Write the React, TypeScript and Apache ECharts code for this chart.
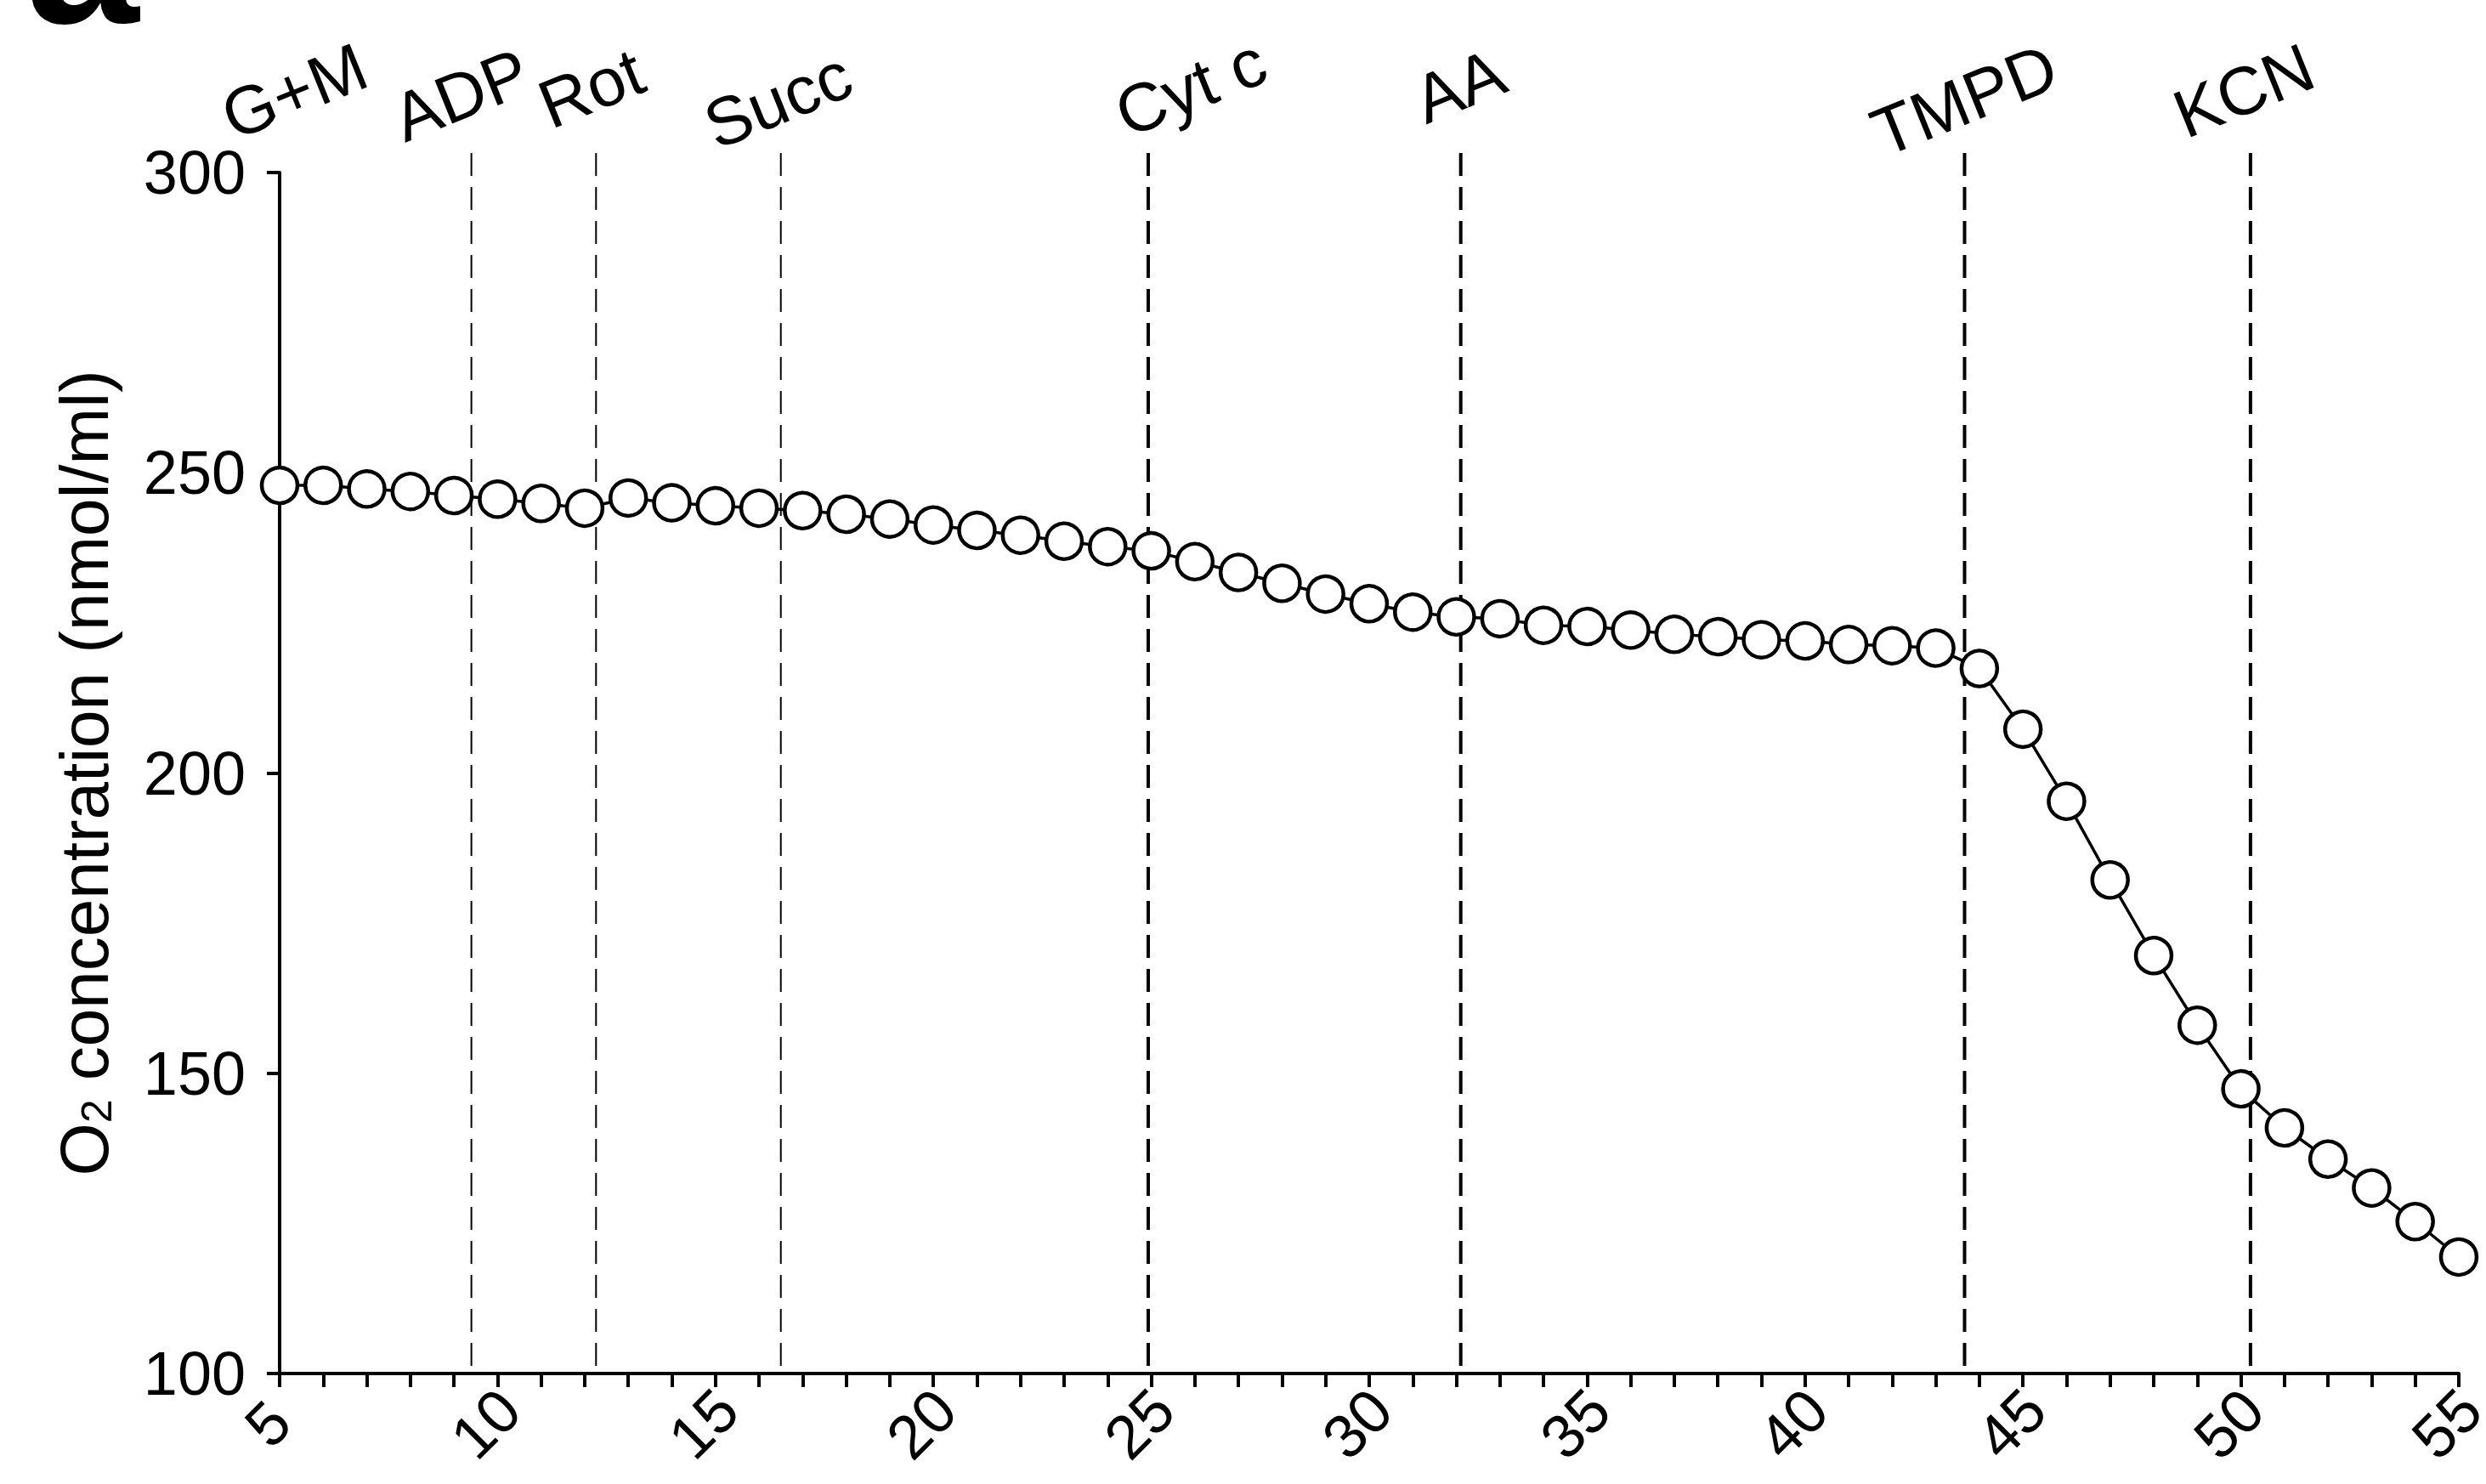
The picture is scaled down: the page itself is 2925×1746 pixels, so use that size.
import React, { useEffect, useRef } from "react";
import * as echarts from "echarts";

// time (min)
const times = [
  5, 6, 7, 8, 9, 10, 11, 12, 13, 14, 15, 16, 17, 18, 19, 20, 21, 22, 23, 24, 25,
  26, 27, 28, 29, 30, 31, 32, 33, 34, 35, 36, 37, 38, 39, 40, 41, 42, 43, 44, 45,
  46, 47, 48, 49, 50, 51, 52, 53, 54, 55,
];
// O2 concentration (nmol/ml)
const o2 = [
  247.9, 247.9, 247.3, 246.9, 246.2, 245.6, 244.9, 244.1, 245.8, 245.0, 244.5,
  244.1, 243.7, 243.1, 242.3, 241.3, 240.4, 239.6, 238.6, 237.7, 237.0, 235.2,
  233.4, 231.6, 229.8, 228.2, 226.8, 226.0, 225.7, 224.6, 224.4, 223.8, 223.1,
  222.7, 222.2, 222.0, 221.4, 221.2, 220.8, 217.4, 207.3, 195.3, 182.2, 169.6,
  158.0, 147.4, 140.9, 135.7, 130.9, 125.3, 119.4,
];
// additions
const eventNames = ["G+M", "ADP", "Rot", "Succ", "Cyt c", "AA", "TMPD", "KCN"];
const eventTimes = [5, 9.4, 12.26, 16.5, 24.93, 32.1, 43.66, 50.22];
const xTicks = { min: 5, max: 55, step: 5 };
const yTicks = { min: 100, max: 300, step: 50 };

// styling (not data)
const FONT = 'Arial, "Liberation Sans", Helvetica, sans-serif';
const eventLineKind = ["none", "thin", "thin", "thin", "thick", "thick", "thick", "thick"];
const labelOffsets = [
  [17, 4],
  [-12, -3],
  [-3, -8],
  [-6, 6],
  [49, 12],
  [2, -9],
  [-3, 7],
  [-6, -6],
];

export default function App() {
  const ref = useRef<HTMLDivElement>(null);

  useEffect(() => {
    if (!ref.current) return;
    const chart = echarts.init(ref.current, undefined, { renderer: "svg" });

    const gridTop = 203;
    const gridBottom = 130;
    const plotH = 1746 - gridTop - gridBottom;
    const perUnit = plotH / (yTicks.max - yTicks.min);
    const lineTopValue = yTicks.max + (gridTop - 180) / perUnit;
    const labelValue = yTicks.max + (gridTop - 110) / perUnit;

    const eventSeries: any[] = [];
    eventTimes.forEach((t, i) => {
      if (eventLineKind[i] === "none") return;
      eventSeries.push({
        type: "line",
        data: [
          [t, lineTopValue],
          [t, yTicks.min],
        ],
        symbol: "none",
        clip: false,
        silent: true,
        z: 1,
        lineStyle: {
          color: "#000",
          width: eventLineKind[i] === "thick" ? 4 : 2,
          type: [27, 13],
        },
      });
    });

    chart.setOption({
      animation: false,
      backgroundColor: "#fff",
      grid: {
        left: 329,
        right: 32,
        top: gridTop,
        bottom: gridBottom,
        containLabel: false,
        outerBoundsMode: "none",
      },
      graphic: [
        {
          type: "text",
          x: 30,
          y: -56,
          style: {
            text: "a",
            fontSize: 240,
            fontWeight: "bold",
            fontFamily: FONT,
            fill: "#000",
            align: "left",
            verticalAlign: "middle",
          },
        },
      ],
      xAxis: {
        type: "value",
        min: xTicks.min,
        max: xTicks.max,
        interval: xTicks.step,
        axisLine: { show: true, lineStyle: { color: "#000", width: 4 } },
        axisTick: { show: true, length: 16, lineStyle: { color: "#000", width: 4 } },
        minorTick: { show: true, splitNumber: 5, length: 16, lineStyle: { color: "#000", width: 4 } },
        splitLine: { show: false },
        minorSplitLine: { show: false },
        axisLabel: {
          rotate: 45,
          fontSize: 72,
          lineHeight: 56,
          color: "#000",
          fontFamily: FONT,
          margin: 45,
          align: "center",
          verticalAlign: "middle",
          padding: [0, 40, 0, 0],
        },
      },
      yAxis: {
        type: "value",
        min: yTicks.min,
        max: yTicks.max,
        interval: yTicks.step,
        axisLine: { show: true, lineStyle: { color: "#000", width: 4 } },
        axisTick: { show: true, length: 15, lineStyle: { color: "#000", width: 4 } },
        splitLine: { show: false },
        axisLabel: { fontSize: 72, color: "#000", fontFamily: FONT, margin: 40 },
        name: "{o|O}{s|2}{o| concentration (nmol/ml)}",
        nameLocation: "middle",
        nameRotate: 90,
        nameGap: 190,
        nameTextStyle: {
          color: "#000",
          rich: {
            o: { fontSize: 80, lineHeight: 80, fontFamily: FONT, color: "#000", verticalAlign: "top" },
            s: {
              fontSize: 50,
              lineHeight: 50,
              fontFamily: FONT,
              color: "#000",
              verticalAlign: "bottom",
              padding: [52, 0, 0, 0],
            },
          },
        },
      },
      series: [
        ...eventSeries,
        {
          type: "line",
          data: times.map((t, i) => [t, o2[i]]),
          symbol: "circle",
          symbolSize: 42,
          showAllSymbol: true,
          clip: false,
          z: 3,
          itemStyle: { color: "#fff", borderColor: "#000", borderWidth: 4.5 },
          lineStyle: { color: "#000", width: 3.5 },
        },
        {
          type: "scatter",
          data: eventNames.map((n, i) => ({
            name: n,
            value: [eventTimes[i], labelValue],
            label: { offset: labelOffsets[i] },
          })),
          symbolSize: 0,
          itemStyle: { color: "rgba(0,0,0,0)", opacity: 1 },
          clip: false,
          silent: true,
          z: 4,
          label: {
            show: true,
            position: "inside",
            formatter: "{b}",
            rotate: 22,
            fontSize: 80,
            color: "#000",
            opacity: 1,
            fontFamily: FONT,
            textBorderWidth: 0,
          },
        },
      ],
    });

    return () => chart.dispose();
  }, []);

  return (
    <div
      ref={ref}
      style={{ position: "fixed", left: 0, top: 0, width: 2925, height: 1746, background: "#fff" }}
    />
  );
}
